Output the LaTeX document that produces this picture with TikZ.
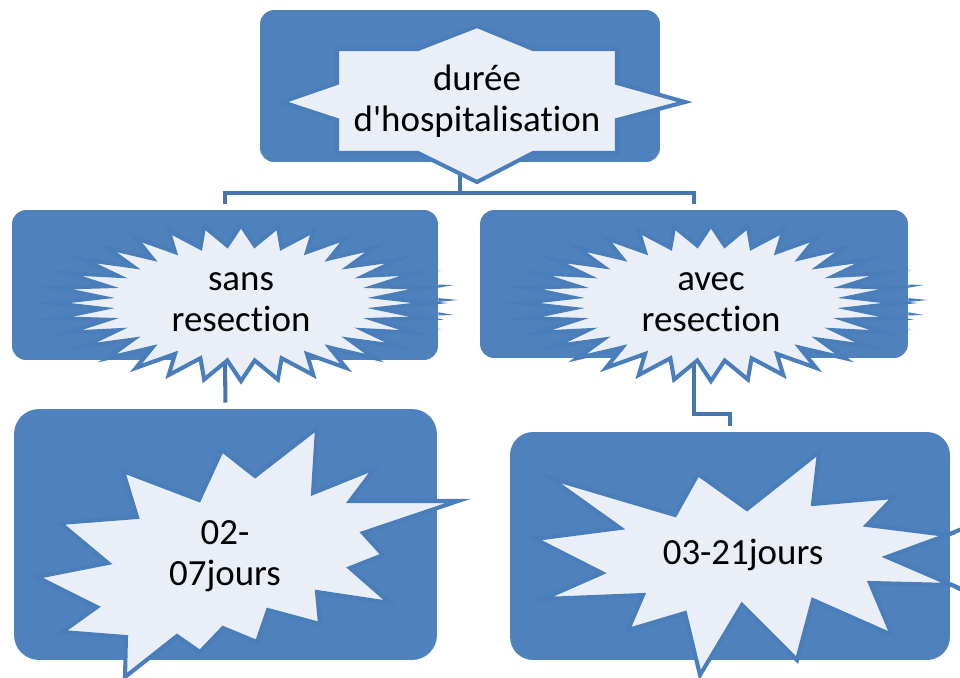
\documentclass[tikz,border=0pt]{standalone}
\usepackage{fontspec}
\setmainfont{Carlito}[Ligatures={TeXOff,NoCommon}]
\usepackage{tikz}
\usetikzlibrary{calc}
\definecolor{boxblue}{HTML}{4F81BD}
\definecolor{burstfill}{HTML}{EAEFF7}
\definecolor{burstline}{HTML}{4A7EBB}
\definecolor{linkblue}{HTML}{4676AE}

\begin{document}
\begin{tikzpicture}[x=0.02cm,y=-0.02cm,
    box/.style={fill=boxblue, draw=none, inner sep=0pt},
    burst/.style={fill=burstfill, draw=burstline, line width=2.3pt},
    link/.style={draw=linkblue, line width=2.3pt, shorten >=0.12cm},
    lbl/.style={align=center, inner sep=0pt, font=\fontsize{21}{23.5}\selectfont}]
    \useasboundingbox (0,0) rectangle (960,677);
    % boxes
    \node[box, minimum width=8cm, minimum height=3.04cm, rounded corners=0.28cm] (duree) at (460,86) {};
    \node[box, minimum width=8.52cm, minimum height=3cm, rounded corners=0.28cm] (sans) at (225,285) {};
    \node[box, minimum width=8.56cm, minimum height=2.96cm, rounded corners=0.28cm] (avec) at (694,284) {};
    \node[box, minimum width=8.46cm, minimum height=5.02cm, rounded corners=0.5cm] (court) at (225.5,534.5) {};
    \node[box, minimum width=8.8cm, minimum height=4.56cm, rounded corners=0.46cm] (long) at (730,546) {};
    % connectors
    \coordinate (fork) at ($(duree.south)+(0,31)$);
    \draw[link, shorten >=0pt] (duree.south) -- (fork);
    \draw[link] (fork) -| (sans.north);
    \draw[link] (fork) -| (avec.north);
    \draw[link] (sans.south) -- (court.north);
    \draw[link] (avec.south) -- ++(0,56) -| (long.north);
    % stars
    \draw[burst] (477,26) -- (533,49) -- (617,49) -- (617,83) -- (685,102) -- (617,120)
        -- (617,153) -- (533,153) -- (477,182) -- (418,153) -- (337,153) -- (337,120)
        -- (282,102) -- (337,83) -- (337,49) -- (418,49) -- cycle;
    \foreach \cx/\nm in {241/sans, 711/avec}{
        \begin{scope}
            \clip (\nm.north east) rectangle ($(\nm.south east)+(40,0)$);
            \fill[burstline] plot[variable=\k, samples at={0,...,63}]
                ({\cx+217*(1-0.26*mod(\k,2))*cos(5.625*\k)}, {300-77*(1-0.26*mod(\k,2))*sin(5.625*\k)}) -- cycle;
        \end{scope}
        \draw[burst] plot[variable=\k, samples at={0,...,63}]
            ({\cx+189*(1-0.26*mod(\k,2))*cos(5.625*\k)}, {303-78*(1-0.26*mod(\k,2))*sin(5.625*\k)}) -- cycle;
    }
    \draw[burst] (222,450) -- (255,476) -- (317,428) -- (313,493) -- (375,468) -- (350,501)
        -- (458,501) -- (363,533) -- (383,555) -- (350,568) -- (390,603) -- (317,592)
        -- (320,624) -- (268,610) -- (257,642) -- (223,628) -- (200,652) -- (177,636)
        -- (125,677) -- (126,637) -- (62,632) -- (97,607) -- (37,577) -- (108,563)
        -- (60,523) -- (137,517) -- (123,471) -- (199,500) -- cycle;
    \draw[burst] (698,474) -- (747,509) -- (819,452) -- (813,504) -- (894,497) -- (867,525)
        -- (947,535) -- (887,557) -- (952,585) -- (870,583) -- (892,635) -- (813,600)
        -- (797,660) -- (742,605) -- (700,675) -- (685,613) -- (628,630) -- (643,595)
        -- (543,599) -- (602,573) -- (535,539) -- (620,528) -- (550,478) -- (675,515) -- cycle;
    \draw[burstline, line width=2.3pt] (947,535) -- (962,529) (952,585) -- (962,590);
    % labels
    \node[lbl] (t-duree) at (477,101) {durée\\d'hospitalisation};
    \node[lbl] (t-sans) at (241,302) {sans\\resection};
    \node[lbl] (t-avec) at (711,302) {avec\\resection};
    \node[lbl] (t-court) at (225,556) {02-\\07jours};
    \node[lbl] (t-long) at (743,555) {03-21jours};
\end{tikzpicture}
\end{document}
